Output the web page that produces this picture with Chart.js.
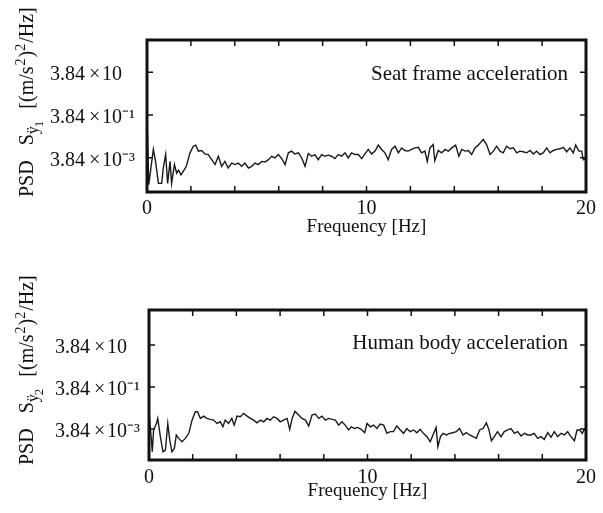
<!DOCTYPE html>
<html><head><meta charset="utf-8">
<script src="https://cdn.jsdelivr.net/npm/chart.js@4.4.0/dist/chart.umd.min.js"></script>
<style>
html,body{margin:0;padding:0;background:#fff;width:603px;height:513px;overflow:hidden}
canvas{position:absolute;left:0}
#c1{top:0}
#c2{top:260px}
</style></head><body>
<canvas id="c1" width="603" height="250"></canvas>
<canvas id="c2" width="603" height="253"></canvas>
<script>
// ---- data (frequency in Hz, PSD in (m/s^2)^2/Hz) ----
const freqTop = [0.00,0.08,0.29,0.39,0.52,0.67,0.74,0.85,0.94,1.05,1.12,1.25,1.35,1.43,1.55,1.70,1.79,1.96,2.11,2.22,2.34,2.49,2.64,2.79,2.95,3.10,3.25,3.40,3.55,3.70,3.86,4.01,4.16,4.31,4.46,4.62,4.77,4.92,5.07,5.23,5.38,5.53,5.68,5.83,5.98,6.14,6.29,6.44,6.59,6.74,6.90,7.05,7.20,7.35,7.50,7.65,7.80,7.96,8.11,8.26,8.41,8.56,8.71,8.87,9.02,9.17,9.32,9.48,9.63,9.78,9.93,10.08,10.23,10.39,10.54,10.69,10.84,10.99,11.14,11.30,11.45,11.60,11.75,11.90,12.05,12.21,12.36,12.51,12.66,12.77,12.89,13.04,13.11,13.27,13.42,13.58,13.73,13.88,14.06,14.21,14.34,14.49,14.64,14.79,14.94,15.09,15.32,15.47,15.63,15.78,15.93,16.08,16.23,16.38,16.54,16.69,16.84,16.99,17.14,17.30,17.45,17.60,17.75,17.90,18.05,18.21,18.36,18.51,18.66,18.81,18.97,19.12,19.27,19.42,19.53,19.68,19.80,19.88,20.00];
const psdTop = [0.355,2.1e-4,9.55e-3,2.57e-3,2.4e-4,2.4e-4,1.26e-3,5.37e-3,2.4e-4,2.57e-3,2.4e-4,1.82e-3,7.24e-4,1.0e-3,6.03e-4,1.05e-3,1.51e-3,6.46e-3,1.32e-2,1.48e-2,7.76e-3,8.32e-3,5.75e-3,5.37e-3,3.09e-3,1.82e-3,4.47e-3,1.51e-3,2.57e-3,1.26e-3,2.14e-3,1.82e-3,2.14e-3,1.51e-3,2.14e-3,1.26e-3,1.51e-3,2.14e-3,1.82e-3,2.57e-3,2.40e-3,3.09e-3,4.47e-3,3.72e-3,5.37e-3,3.47e-3,1.82e-3,6.46e-3,7.76e-3,5.75e-3,6.46e-3,3.72e-3,1.51e-3,6.0e-3,4.47e-3,5.37e-3,3.09e-3,5.37e-3,4.47e-3,5.01e-3,4.47e-3,3.47e-3,5.37e-3,4.47e-3,6.46e-3,3.72e-3,6.46e-3,5.37e-3,5.37e-3,3.47e-3,5.75e-3,9.33e-3,5.75e-3,7.76e-3,1.48e-2,9.33e-3,6.46e-3,3.09e-3,9.33e-3,1.32e-2,6.46e-3,1.10e-2,8.32e-3,7.76e-3,9.33e-3,1.10e-2,1.17e-2,6.46e-3,7.76e-3,2.57e-3,1.10e-2,1.58e-2,2.75e-3,8.32e-3,6.46e-3,9.33e-3,7.76e-3,1.10e-2,1.48e-2,4.47e-3,9.33e-3,7.76e-3,8.32e-3,5.37e-3,1.10e-2,1.48e-2,2.75e-2,1.58e-2,5.37e-3,7.76e-3,1.32e-2,7.76e-3,6.46e-3,1.32e-2,1.0e-2,1.10e-2,6.46e-3,7.76e-3,7.24e-3,6.46e-3,8.32e-3,5.75e-3,7.76e-3,5.37e-3,6.46e-3,1.10e-2,6.46e-3,8.32e-3,9.33e-3,1.0e-2,1.17e-2,7.24e-3,1.10e-2,6.46e-3,1.48e-2,7.76e-3,7.76e-3,3.09e-3,3.5e-3];

const freqBottom = [0.00,0.03,0.11,0.15,0.21,0.34,0.40,0.52,0.64,0.75,0.86,0.95,1.05,1.16,1.25,1.36,1.51,1.66,1.82,1.97,2.12,2.22,2.35,2.50,2.65,2.80,2.96,3.11,3.26,3.38,3.49,3.64,3.79,3.90,4.03,4.18,4.33,4.49,4.64,4.79,4.94,5.10,5.25,5.40,5.55,5.70,5.86,6.01,6.16,6.32,6.44,6.55,6.68,6.85,7.00,7.16,7.31,7.46,7.61,7.77,7.92,8.07,8.22,8.38,8.53,8.68,8.83,8.98,9.14,9.26,9.41,9.56,9.71,9.87,9.98,10.13,10.28,10.43,10.58,10.74,10.89,11.04,11.19,11.34,11.50,11.65,11.80,11.95,12.11,12.26,12.41,12.56,12.72,12.87,13.03,13.14,13.22,13.34,13.46,13.61,13.76,13.91,14.06,14.21,14.37,14.52,14.68,14.83,14.98,15.13,15.29,15.44,15.56,15.67,15.80,15.95,16.11,16.26,16.42,16.57,16.72,16.87,17.03,17.18,17.33,17.48,17.63,17.79,17.94,18.09,18.25,18.40,18.55,18.70,18.86,19.01,19.16,19.31,19.47,19.59,19.71,19.83,19.92,20.00];
const psdBottom = [1.4e-2,1.02e-2,1.15e-3,3.16e-4,3.47e-3,7.08e-3,1.23e-2,1.66e-3,3.16e-4,3.80e-4,7.08e-3,1.15e-3,3.16e-4,4.57e-4,2.0e-3,1.38e-3,9.55e-4,1.38e-3,2.40e-3,1.02e-2,2.57e-2,2.57e-2,1.23e-2,1.58e-2,1.23e-2,1.10e-2,1.02e-2,7.08e-3,8.51e-3,4.90e-3,1.02e-2,7.08e-3,1.23e-2,5.89e-3,1.58e-2,1.48e-2,2.14e-2,1.58e-2,1.23e-2,1.02e-2,7.59e-3,1.02e-2,8.51e-3,1.23e-2,1.02e-2,1.48e-2,1.23e-2,8.51e-3,1.02e-2,1.23e-2,3.72e-3,1.23e-2,2.7e-2,1.78e-2,1.23e-2,1.02e-2,5.37e-3,1.78e-2,2.0e-2,1.23e-2,1.58e-2,1.02e-2,1.23e-2,1.10e-2,1.02e-2,5.89e-3,8.51e-3,5.89e-3,3.47e-3,4.90e-3,4.07e-3,4.57e-3,3.72e-3,2.57e-3,7.08e-3,4.90e-3,5.89e-3,4.07e-3,6.61e-3,5.89e-3,2.40e-3,2.88e-3,2.88e-3,5.37e-3,3.47e-3,2.40e-3,4.07e-3,2.88e-3,3.47e-3,2.57e-3,3.72e-3,2.40e-3,1.66e-3,9.55e-4,2.40e-3,4.57e-3,5.50e-4,1.66e-3,2.40e-3,2.0e-3,2.40e-3,2.57e-3,2.88e-3,4.07e-3,2.0e-3,2.57e-3,2.0e-3,1.66e-3,1.38e-3,3.47e-3,4.07e-3,7.59e-3,3.47e-3,1.07e-3,1.66e-3,2.88e-3,1.66e-3,2.88e-3,3.47e-3,4.07e-3,2.40e-3,2.88e-3,1.78e-3,2.40e-3,2.0e-3,2.0e-3,2.40e-3,1.38e-3,1.66e-3,1.23e-3,2.57e-3,1.55e-3,2.88e-3,1.66e-3,2.40e-3,2.0e-3,2.88e-3,1.66e-3,1.07e-3,3.47e-3,3.47e-3,2.40e-3,3.72e-3,3.0e-3];

const yTickValues = [3.84e-3, 3.84e-1, 38.4];
const yTickLabels = ['3.84\u2009×\u200a10⁻³', '3.84\u2009×\u200a10⁻¹', '3.84\u2009×\u200a10'];
const xLabelledTicks = [0, 10, 20];
const xTitle = 'Frequency [Hz]';
const panelLabels = ['Seat frame acceleration', 'Human body acceleration'];
const ySubscripts = ['1', '2'];

const SERIF = '"Liberation Serif", "Times New Roman", serif';

function drawYTitle(ctx, x, yStart, sub) {
  ctx.save();
  ctx.translate(x, yStart);
  ctx.rotate(-Math.PI / 2);
  ctx.fillStyle = '#111';
  ctx.textAlign = 'left';
  ctx.textBaseline = 'alphabetic';
  const parts = [
    ['PSD', 20, 0, 15], ['S', 20, 0, 0], ['ÿ', 16, 5, -1], [sub, 13, 10, 12],
    ['[(m/s', 20, 0, 1], ['2', 14, -8, 1], [')', 20, 0, 0], ['2', 14, -8, 1], ['/Hz]', 20, 0, 0]
  ];
  let cx = 0;
  for (const [t, size, dy, gap] of parts) {
    ctx.font = size + 'px ' + SERIF;
    ctx.fillText(t, cx, dy);
    cx += ctx.measureText(t).width + gap;
  }
  ctx.restore();
}

function framePlugin(cfg) {
  return {
    id: 'frame' + cfg.sub,
    afterDraw(chart) {
      const {ctx, chartArea: a} = chart;
      const xs = chart.scales.x, ys = chart.scales.y;
      ctx.save();
      ctx.strokeStyle = '#111';
      ctx.lineWidth = 1.5;
      ctx.beginPath();
      for (let v = 2; v < 20; v += 2) {
        const px = xs.getPixelForValue(v);
        ctx.moveTo(px, a.bottom); ctx.lineTo(px, a.bottom - 6);
        ctx.moveTo(px, a.top); ctx.lineTo(px, a.top + 6);
      }
      for (const v of yTickValues) {
        const py = ys.getPixelForValue(v);
        ctx.moveTo(a.left, py); ctx.lineTo(a.left + 6, py);
        ctx.moveTo(a.right, py); ctx.lineTo(a.right - 6, py);
      }
      ctx.stroke();
      ctx.lineWidth = 3;
      ctx.strokeRect(a.left, a.top, a.right - a.left, a.bottom - a.top);
      ctx.fillStyle = '#111';
      ctx.font = '21px ' + SERIF;
      ctx.textAlign = 'right';
      ctx.textBaseline = 'middle';
      ctx.fillText(cfg.label, a.right - 18, a.top + cfg.labelDy);
      drawYTitle(ctx, 33, cfg.titleStart, cfg.sub);
      ctx.restore();
    }
  };
}

function makeChart(id, freq, vals, cfg) {
  const pts = freq.map((f, i) => ({x: f, y: vals[i]}));
  return new Chart(document.getElementById(id), {
    type: 'line',
    data: {datasets: [{data: pts, borderColor: '#1a1a1a', borderWidth: 1.4, pointRadius: 0, tension: 0, fill: false}]},
    options: {
      responsive: false, animation: false, devicePixelRatio: 1,
      layout: {padding: {left: cfg.padLeft, top: cfg.padTop, right: 17, bottom: 0}},
      plugins: {legend: {display: false}, tooltip: {enabled: false}},
      scales: {
        x: {
          type: 'linear', min: 0, max: 20,
          grid: {display: false, drawTicks: false}, border: {display: false},
          ticks: {
            stepSize: 2, autoSkip: false, maxRotation: 0, padding: cfg.xTickPad, color: '#111',
            font: {family: SERIF, size: 20},
            callback: v => xLabelledTicks.includes(v) ? String(v) : ''
          },
          title: {display: true, text: xTitle, color: '#111', font: {family: SERIF, size: 19}, padding: {top: 0, bottom: cfg.titlePad}},
          afterFit: s => { s.height = cfg.xHeight; }
        },
        y: {
          type: 'logarithmic', min: cfg.yMin, max: cfg.yMax,
          grid: {display: false, drawTicks: false}, border: {display: false},
          afterBuildTicks: s => { s.ticks = yTickValues.map(v => ({value: v})); },
          ticks: {
            crossAlign: 'far', color: '#111', font: {family: SERIF, size: 20}, labelOffset: 3,
            callback: (v, i) => yTickLabels[i]
          },
          afterFit: s => { s.width = cfg.yWidth; }
        }
      }
    },
    plugins: [framePlugin(cfg)]
  });
}

makeChart('c1', freqTop, psdTop, {
  padLeft: 50, padTop: 40, yWidth: 97, xHeight: 58, titlePad: 12, xTickPad: 5,
  yMin: 9.5e-5, yMax: 1230, label: panelLabels[0], labelDy: 34, sub: ySubscripts[0], titleStart: 197
});
makeChart('c2', freqBottom, psdBottom, {
  padLeft: 55, padTop: 50, yWidth: 94, xHeight: 53, titlePad: 11, xTickPad: 6,
  yMin: 1.29e-4, yMax: 1780, label: panelLabels[1], labelDy: 33, sub: ySubscripts[1], titleStart: 205
});
</script>
</body></html>
